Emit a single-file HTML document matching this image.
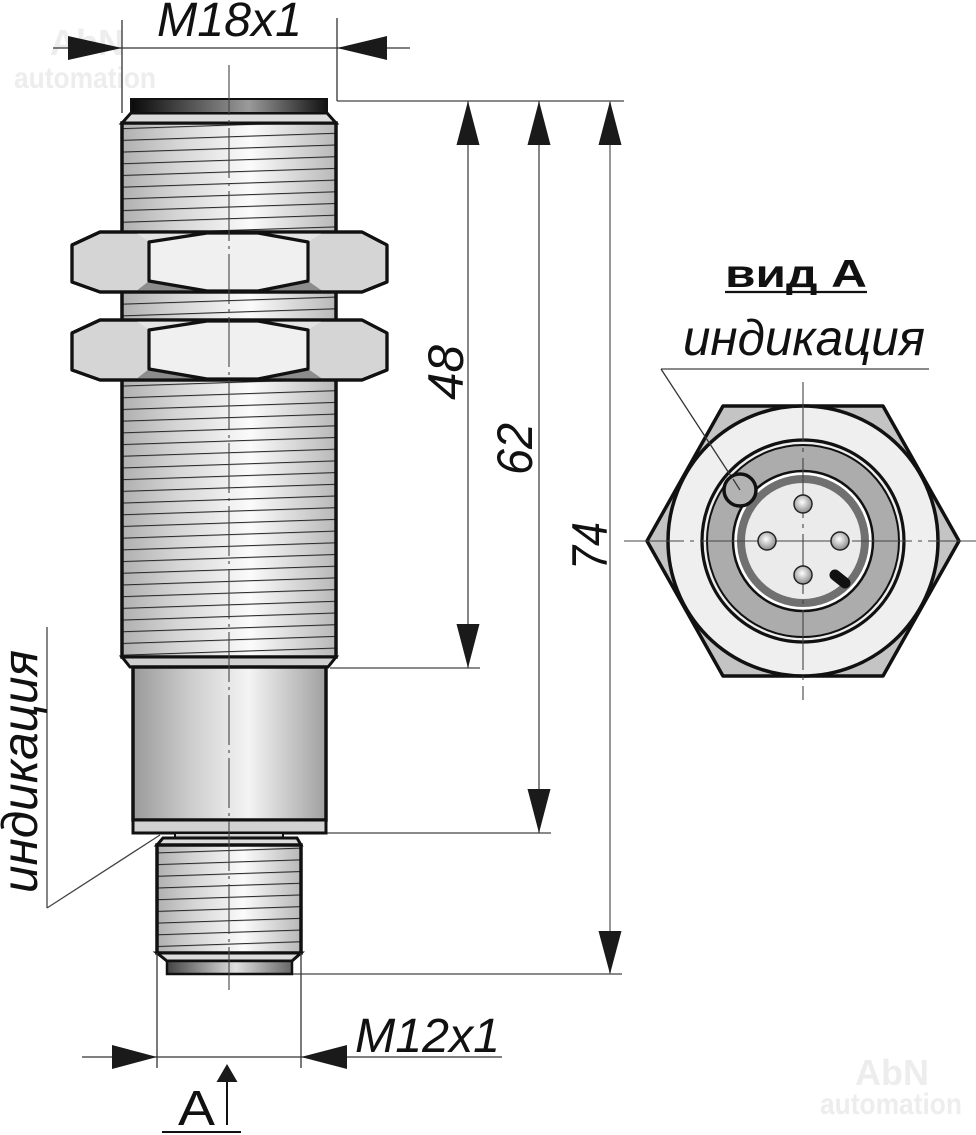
<!DOCTYPE html>
<html><head><meta charset="utf-8"><style>
html,body{margin:0;padding:0;background:#fff;}
svg{display:block;}
text{font-family:"Liberation Sans","DejaVu Sans",sans-serif;}
</style></head><body>
<svg width="976" height="1135" viewBox="0 0 976 1135" xmlns="http://www.w3.org/2000/svg">
<defs>
<linearGradient id="bodyG" x1="0" y1="0" x2="1" y2="0">
<stop offset="0" stop-color="#b0b0b0"/><stop offset="0.25" stop-color="#d4d4d4"/><stop offset="0.6" stop-color="#fbfbfb"/><stop offset="1" stop-color="#b8b8b8"/>
</linearGradient>
<linearGradient id="sleeveG" x1="0" y1="0" x2="1" y2="0">
<stop offset="0" stop-color="#9a9a9a"/><stop offset="0.3" stop-color="#cdcdcd"/><stop offset="0.6" stop-color="#f4f4f4"/><stop offset="1" stop-color="#a0a0a0"/>
</linearGradient>
<linearGradient id="capG" x1="0" y1="0" x2="1" y2="0">
<stop offset="0" stop-color="#0a0a0a"/><stop offset="0.6" stop-color="#9a9a9a"/><stop offset="1" stop-color="#111"/>
</linearGradient>
<linearGradient id="cap2G" x1="0" y1="0" x2="1" y2="0">
<stop offset="0" stop-color="#444"/><stop offset="0.55" stop-color="#e0e0e0"/><stop offset="1" stop-color="#666"/>
</linearGradient>
<radialGradient id="pinG" cx="0.45" cy="0.4" r="0.6">
<stop offset="0" stop-color="#ffffff"/><stop offset="1" stop-color="#8a8a8a"/>
</radialGradient>
<pattern id="thr" patternUnits="userSpaceOnUse" width="976" height="11.7" y="3" patternTransform="skewY(-1.9)">
<line x1="0" y1="1" x2="976" y2="1" stroke="#2a2a2a" stroke-width="1.1"/>
</pattern>
</defs>

<!-- watermarks -->
<g fill="#ededed" font-weight="bold">
<text x="50" y="55" font-size="36">AbN</text>
<text x="14" y="88" font-size="30" textLength="142" lengthAdjust="spacingAndGlyphs">automation</text>
<text x="855" y="1085" font-size="36">AbN</text>
<text x="820" y="1114" font-size="30" textLength="142" lengthAdjust="spacingAndGlyphs">automation</text>
</g>

<!-- M18x1 dimension -->
<g stroke="#333" stroke-width="1.3" fill="none">
<line x1="53" y1="48" x2="410" y2="48"/>
<line x1="122" y1="20" x2="122" y2="113"/>
<line x1="337" y1="18" x2="337" y2="101"/>
</g>
<polygon points="122,48 68,36 68,60" fill="#1a1a1a"/>
<polygon points="337,48 387,36 387,60" fill="#1a1a1a"/>
<text x="157" y="36" font-size="48" font-style="italic" textLength="145" lengthAdjust="spacingAndGlyphs" fill="#111">M18x1</text>

<!-- extension lines right -->
<g stroke="#444" stroke-width="1.3">
<line x1="337" y1="101" x2="624" y2="101"/>
<line x1="330" y1="668" x2="480" y2="668"/>
<line x1="326" y1="833" x2="551" y2="833"/>
<line x1="292" y1="974" x2="622" y2="974"/>
<line x1="468" y1="101" x2="468" y2="668"/>
<line x1="539" y1="101" x2="539" y2="833"/>
<line x1="610" y1="101" x2="610" y2="974" stroke="#777" stroke-width="1.5"/>
</g>
<g fill="#1a1a1a">
<polygon points="468,101 456.5,145 479.5,145"/>
<polygon points="468,668 456.5,624 479.5,624"/>
<polygon points="539,101 527.5,145 550.5,145"/>
<polygon points="539,833 527.5,789 550.5,789"/>
<polygon points="610,101 598.5,145 621.5,145"/>
<polygon points="610,974 598.5,931 621.5,931"/>
</g>
<g font-size="50" font-style="italic" fill="#111">
<text transform="translate(463,400) rotate(-90)" textLength="55" lengthAdjust="spacingAndGlyphs">48</text>
<text transform="translate(532,475) rotate(-90)" textLength="52" lengthAdjust="spacingAndGlyphs">62</text>
<text transform="translate(607,570) rotate(-90)" textLength="48" lengthAdjust="spacingAndGlyphs">74</text>
</g>

<!-- upper body -->
<rect x="122" y="123" width="214" height="534" fill="url(#bodyG)"/>
<rect x="122" y="123" width="214" height="534" fill="url(#thr)"/>
<rect x="122" y="123" width="214" height="534" fill="none" stroke="#111" stroke-width="3.5"/>
<polygon points="131,113 327,113 336,123 122,123" fill="#dcdcdc" stroke="#111" stroke-width="3"/>
<rect x="131" y="99" width="196" height="14" fill="url(#capG)" stroke="#111" stroke-width="2"/>

<!-- nuts -->
<g id="nut1" stroke="#111" stroke-width="3.2" stroke-linejoin="round">
<polygon points="72,245 100,232 362,232 387,245 387,282 362,292 100,292 72,282" fill="#d5d5d5"/>
<polygon points="135,232 207,232 149,242" fill="#e4e4e4" stroke="none"/>
<polygon points="135,292 207,292 149,281" fill="#8c8c8c" stroke="none"/>
<polygon points="324,232 252,232 308,242" fill="#e4e4e4" stroke="none"/>
<polygon points="324,292 252,292 308,281" fill="#8c8c8c" stroke="none"/>
<polygon points="149,242 207,233 258,233 308,242 308,281 258,291 207,291 149,281" fill="#f0f0f0"/>
<polygon points="72,245 100,232 362,232 387,245 387,282 362,292 100,292 72,282" fill="none"/>
</g>
<use href="#nut1" transform="translate(0,88)"/>

<!-- lower chamfer & sleeve -->
<polygon points="122,657 336,657 328,667 130,667" fill="#d0d0d0" stroke="#111" stroke-width="3"/>
<rect x="133" y="667" width="193" height="153" fill="url(#sleeveG)" stroke="#111" stroke-width="3.5"/>
<rect x="133" y="820" width="193" height="13" fill="#d2d2d2" stroke="#111" stroke-width="3"/>

<!-- connector -->
<rect x="175" y="833" width="108" height="5" fill="#cfcfcf" stroke="#111" stroke-width="2"/>
<polygon points="163,838 297,838 301,845 157,845" fill="#dcdcdc" stroke="#111" stroke-width="3"/>
<rect x="157" y="845" width="144" height="108" fill="url(#bodyG)"/>
<rect x="157" y="845" width="144" height="108" fill="url(#thr)"/>
<rect x="157" y="845" width="144" height="108" fill="none" stroke="#111" stroke-width="3.5"/>
<polygon points="157,953 301,953 292,961 167,961" fill="#dcdcdc" stroke="#111" stroke-width="3"/>
<rect x="167" y="961" width="125" height="13" fill="url(#cap2G)" stroke="#111" stroke-width="2.5"/>

<!-- center line -->
<line x1="229" y1="65" x2="229" y2="990" stroke="#444" stroke-width="1.1" stroke-dasharray="50 5 3 5"/>

<!-- left indication -->
<g stroke="#444" stroke-width="1.3">
<line x1="47" y1="627" x2="47" y2="908"/>
<line x1="47" y1="908" x2="160" y2="835"/>
</g>
<text transform="translate(37,893) rotate(-90)" font-size="50" font-style="italic" fill="#111" textLength="243" lengthAdjust="spacingAndGlyphs">индикация</text>

<!-- M12x1 dimension -->
<g stroke="#333" stroke-width="1.3">
<line x1="82" y1="1057" x2="502" y2="1057"/>
<line x1="157" y1="953" x2="157" y2="1068"/>
<line x1="301" y1="953" x2="301" y2="1068"/>
<line x1="227" y1="1080" x2="227" y2="1125" stroke="#111" stroke-width="2"/>
<line x1="162" y1="1132" x2="241" y2="1132" stroke="#111" stroke-width="2"/>
</g>
<polygon points="157,1057 112,1045 112,1069" fill="#1a1a1a"/>
<polygon points="301,1057 347,1045 347,1069" fill="#1a1a1a"/>
<polygon points="227,1064 216.5,1082 237.5,1082" fill="#1a1a1a"/>
<text x="355" y="1052" font-size="48" font-style="italic" textLength="145" lengthAdjust="spacingAndGlyphs" fill="#111">M12x1</text>
<text x="178" y="1125" font-size="49" textLength="37" lengthAdjust="spacingAndGlyphs" fill="#111">A</text>

<!-- view A -->
<text x="725" y="287" font-size="39" font-weight="bold" textLength="142" lengthAdjust="spacingAndGlyphs" fill="#111">вид А</text>
<line x1="725" y1="292" x2="867" y2="292" stroke="#111" stroke-width="2.2"/>
<text x="683" y="355" font-size="50" font-style="italic" textLength="242" lengthAdjust="spacingAndGlyphs" fill="#111">индикация</text>
<line x1="661" y1="369" x2="929" y2="369" stroke="#444" stroke-width="1.3"/>

<polygon points="647,541 723,406 883,406 959,541 883,676 723,676" fill="#c4c4c4" stroke="#111" stroke-width="3.5" stroke-linejoin="round"/>
<circle cx="803" cy="541" r="135" fill="#efefef" stroke="#111" stroke-width="3.5"/>
<circle cx="803" cy="541" r="101" fill="#eeeeee" stroke="#111" stroke-width="3.2"/>
<circle cx="803" cy="541" r="96" fill="#acacac" stroke="#111" stroke-width="2"/>
<circle cx="803" cy="541" r="70" fill="#ffffff" stroke="#111" stroke-width="2.5"/>
<circle cx="803" cy="541" r="62" fill="#ebebeb" stroke="#707070" stroke-width="8"/>
<line x1="661" y1="369" x2="740" y2="490" stroke="#333" stroke-width="1.3"/>
<circle cx="740" cy="490" r="16" fill="#b3b3b3" stroke="#111" stroke-width="3.5"/>
<line x1="740" y1="490" x2="733" y2="479" stroke="#333" stroke-width="1.2"/>

<g stroke="#444" stroke-width="1.1" stroke-dasharray="60 6 4 6">
<line x1="803" y1="382" x2="803" y2="700"/>
<line x1="624" y1="541" x2="976" y2="541"/>
</g>
<g fill="url(#pinG)" stroke="#222" stroke-width="1.5">
<circle cx="803" cy="504" r="9"/>
<circle cx="767" cy="541" r="9"/>
<circle cx="840" cy="541" r="9"/>
<circle cx="803" cy="575" r="9"/>
</g>
<line x1="835" y1="575" x2="845" y2="583" stroke="#111" stroke-width="11" stroke-linecap="round"/>
</svg>
</body></html>
